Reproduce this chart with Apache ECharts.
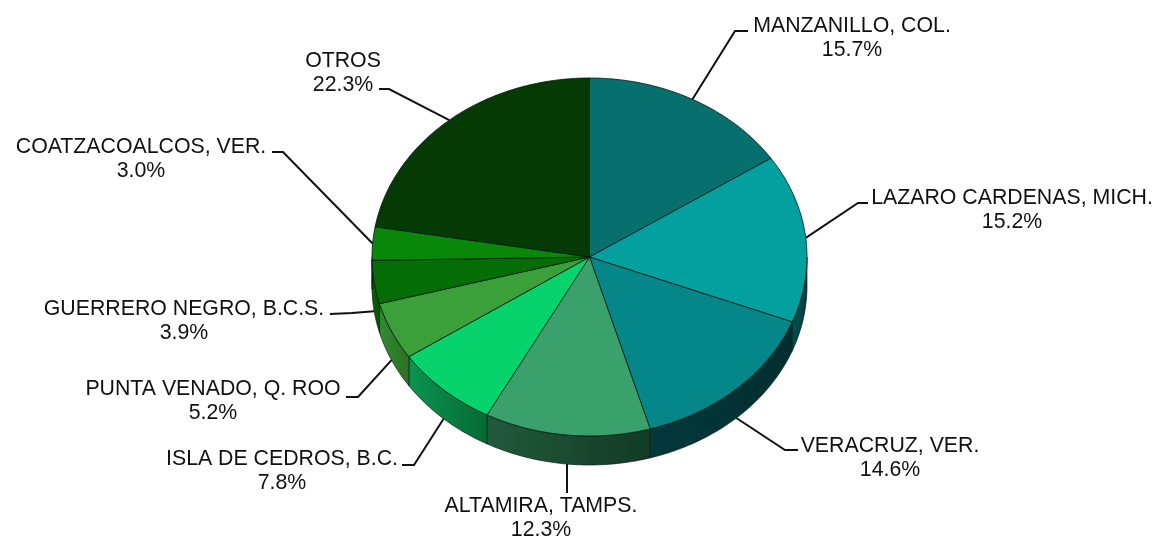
<!DOCTYPE html>
<html>
<head>
<meta charset="utf-8">
<style>html,body{margin:0;padding:0;background:#fff}#c{width:1159px;height:542px}</style>
<script src="https://cdn.jsdelivr.net/npm/echarts@6/dist/echarts.min.js"></script>
</head>
<body>
<div id="c"></div>
<script>
const categories = ['MANZANILLO, COL.','LAZARO CARDENAS, MICH.','VERACRUZ, VER.','ALTAMIRA, TAMPS.','ISLA DE CEDROS, B.C.','PUNTA VENADO, Q. ROO','GUERRERO NEGRO, B.C.S.','COATZACOALCOS, VER.','OTROS'];
const shares = [15.7,15.2,14.6,12.3,7.8,5.2,3.9,3.0,22.3];
const topColors = ['#07706f','#049f9f','#05878a','#3aa06c','#06d36c','#3ca03a','#056d05','#088708','#063a05'];
const sideFrom = ['#034040','#035052','#03383c','#225a3c','#0a9450','#338a30','#056505','#067006','#042a04'];
const sideTo = ['#034040','#023c3e','#022e30','#123a24','#056a34','#2a7226','#045204','#067006','#042a04'];
// layout only: label centre and leader elbow / leader end, in pixels
const labelLayout = [
  {x:852,y:38,  elbow:[735,31],  end:[748,31]},
  {x:1012,y:210,elbow:[858,203], end:[868,203]},
  {x:890,y:458, elbow:[785,450], end:[798,450]},
  {x:541,y:518, elbow:[567,478], end:[567,493]},
  {x:282,y:471, elbow:[414,465], end:[402,465]},
  {x:213,y:401, elbow:[358,397], end:[346,397]},
  {x:184,y:321, elbow:[352,313], end:[330,314]},
  {x:141,y:159, elbow:[283,152], end:[272,152]},
  {x:343,y:73,  elbow:[389,89],  end:[379,89]}
];
const pie = {cx:589.5, cy:257, rx:217.5, ry:179, depth:29};
const total = shares.reduce((a,b)=>a+b,0);
let running = 0;
const starts = shares.map(v=>{const s=running; running+=v; return s;});
function pt(deg, dy){
  const t = deg*Math.PI/180;
  return [pie.cx+pie.rx*Math.sin(t), pie.cy-pie.ry*Math.cos(t)+(dy||0)];
}
function arc(a0,a1,dy){
  const out=[], n=Math.max(2,Math.ceil(Math.abs(a1-a0)));
  for(let i=0;i<=n;i++) out.push(pt(a0+(a1-a0)*i/n,dy));
  return out;
}
const chart = echarts.init(document.getElementById('c'),null,{renderer:'canvas'});
chart.setOption({
  animation:false,
  backgroundColor:'#fff',
  series:[{
    type:'custom',
    coordinateSystem:'none',
    silent:true,
    data:shares.map(v=>[v]),
    renderItem(params,api){
      const i=params.dataIndex, v=api.value(0);
      const a0=starts[i]/total*360, a1=(starts[i]+v)/total*360, mid=(a0+a1)/2;
      const children=[];
      // rim
      const s0=Math.max(a0,90), s1=Math.min(a1,270);
      if(s1>s0){
        const upper=arc(s0,s1,0), lower=arc(s1,s0,pie.depth);
        const xs=upper.map(p=>p[0]);
        children.push({type:'polygon',z2:1,shape:{points:upper.concat(lower)},style:{
          fill:{type:'linear',x:Math.min(...xs),y:0,x2:Math.max(...xs),y2:0,global:true,
            colorStops:[{offset:0,color:sideFrom[i]},{offset:1,color:sideTo[i]}]},
          stroke:'rgba(0,25,15,0.65)',lineWidth:1}});
      }
      // top face
      children.push({type:'polygon',z2:2,shape:{points:[[pie.cx,pie.cy]].concat(arc(a0,a1,0))},style:{
        fill:topColors[i],stroke:'rgba(0,25,15,0.8)',lineWidth:1,lineJoin:'round'}});
      // leader
      const anchor=pt(mid,(mid>90&&mid<270)?pie.depth:0), l=labelLayout[i];
      children.push({type:'polyline',z2:3,shape:{points:[anchor,l.elbow,l.end]},style:{
        fill:null,stroke:'#111',lineWidth:2}});
      // label
      children.push({type:'text',z2:4,style:{
        x:l.x,y:l.y,text:categories[i]+'\n'+v.toFixed(1)+'%',
        align:'center',verticalAlign:'middle',
        fontFamily:'"Liberation Sans",Arial,sans-serif',fontSize:21.3,lineHeight:24.5,fill:'#111'}});
      return {type:'group',children};
    }
  }]
});
</script>
</body>
</html>
